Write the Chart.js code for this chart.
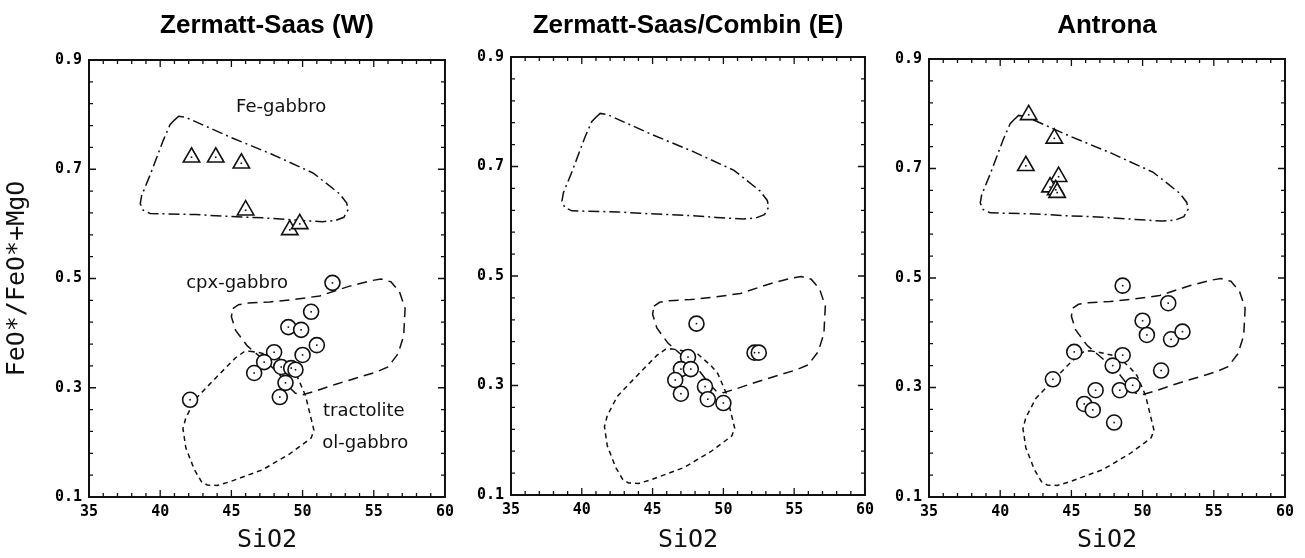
<!DOCTYPE html>
<html>
<head>
<meta charset="utf-8">
<script src="https://cdn.jsdelivr.net/npm/chart.js@4.4.1/dist/chart.umd.min.js"></script>
<style>
  html, body { margin: 0; padding: 0; background: #fff; }
  #wrap { position: relative; width: 1305px; height: 558px; overflow: hidden; }
  canvas { position: absolute; top: 0; }
</style>
</head>
<body>
<div id="wrap">
  <canvas id="west" width="460" height="558" style="left:0"></canvas>
  <canvas id="east" width="420" height="558" style="left:460px"></canvas>
  <canvas id="antrona" width="425" height="558" style="left:880px"></canvas>
</div>
<script>
// axis tick labels
const xTickLabels = [35, 40, 45, 50, 55, 60];
const yTickLabels = [0.1, 0.3, 0.5, 0.7, 0.9];

// field outlines (same in every panel)
const feGabbroX = [41.0, 41.3, 41.8, 44.9, 47.8, 50.75, 52.6, 53.1, 53.2, 52.9, 52.3, 51.4, 49.5, 47.2, 44.5, 42.5, 39.3, 38.8, 38.6, 38.7, 39.3, 40.2, 40.7, 41.0];
const feGabbroY = [0.790, 0.797, 0.795, 0.759, 0.728, 0.693, 0.655, 0.638, 0.626, 0.612, 0.606, 0.604, 0.607, 0.611, 0.614, 0.617, 0.619, 0.625, 0.637, 0.652, 0.690, 0.752, 0.782, 0.790];

const cpxX = [45.1, 45.5, 46.2, 47.7, 49.5, 51.2, 53.3, 54.8, 55.5, 56.2, 56.8, 57.2, 57.1, 56.7, 56.0, 55.2, 52.4, 50.8, 50.0, 49.5, 49.1, 48.2, 46.1, 45.3, 45.0, 45.1];
const cpxY = [0.445, 0.452, 0.455, 0.457, 0.462, 0.468, 0.486, 0.496, 0.499, 0.494, 0.476, 0.445, 0.395, 0.362, 0.338, 0.329, 0.307, 0.293, 0.287, 0.290, 0.300, 0.330, 0.377, 0.405, 0.430, 0.445];

const troctX = [46.3, 47.0, 48.2, 49.1, 49.6, 50.2, 50.5, 50.8, 50.6, 49.1, 47.2, 44.9, 44.0, 43.3, 42.9, 42.4, 41.8, 41.6, 41.8, 42.5, 43.9, 45.3, 45.9, 46.3];
const troctY = [0.367, 0.364, 0.357, 0.337, 0.322, 0.286, 0.254, 0.222, 0.208, 0.179, 0.150, 0.128, 0.121, 0.122, 0.128, 0.150, 0.190, 0.225, 0.245, 0.280, 0.318, 0.355, 0.366, 0.367];

// Zermatt-Saas (W)
const westTriX = [42.2, 43.9, 45.7, 46.0, 49.1, 49.8];
const westTriY = [0.722, 0.722, 0.711, 0.625, 0.589, 0.600];
const westCircX = [52.1, 50.6, 49.0, 49.9, 51.0, 50.0, 48.0, 47.3, 46.6, 48.5, 49.2, 49.5, 48.8, 48.4, 42.1];
const westCircY = [0.492, 0.439, 0.411, 0.406, 0.378, 0.360, 0.365, 0.347, 0.327, 0.338, 0.336, 0.333, 0.309, 0.283, 0.278];

// Zermatt-Saas/Combin (E)
const eastCircX = [48.1, 47.5, 47.0, 47.7, 46.6, 47.0, 48.7, 48.9, 50.0, 52.2, 52.5];
const eastCircY = [0.413, 0.352, 0.330, 0.330, 0.310, 0.285, 0.298, 0.275, 0.268, 0.360, 0.360];

// Antrona
const antTriX = [42.0, 43.8, 41.8, 44.1, 43.5, 43.9, 44.0];
const antTriY = [0.798, 0.755, 0.705, 0.685, 0.666, 0.661, 0.656];
const antCircX = [48.6, 51.8, 50.0, 50.3, 52.0, 52.8, 45.2, 48.6, 47.9, 51.3, 43.7, 46.7, 48.4, 49.3, 45.9, 46.5, 48.0];
const antCircY = [0.486, 0.454, 0.422, 0.396, 0.388, 0.402, 0.365, 0.359, 0.340, 0.331, 0.315, 0.295, 0.295, 0.304, 0.270, 0.259, 0.236];

// field names (west panel only)
const fieldNames = ["Fe-gabbro", "cpx-gabbro", "tractolite", "ol-gabbro"];
const fieldNameX = [48.5, 45.4, 54.3, 54.4];
const fieldNameY = [0.814, 0.492, 0.257, 0.199];

Chart.defaults.font.family = "'DejaVu Sans Mono', monospace";
Chart.defaults.color = "#000";

function pts(xs, ys) {
  return xs.map((x, i) => ({ x: x, y: ys[i] }));
}

function field(xs, ys, dash) {
  return {
    data: pts(xs, ys), showLine: true, pointRadius: 0, borderColor: "#111",
    borderWidth: 1.5, borderDash: dash, fill: false, tension: 0, order: 2
  };
}

function markers(xs, ys, style) {
  return {
    data: pts(xs, ys), showLine: false, pointStyle: style,
    pointRadius: style === "triangle" ? 9.5 : 7.5,
    pointBackgroundColor: "#fff", pointBorderColor: "#111", pointBorderWidth: 1.6,
    centreDot: true, order: 1
  };
}

// frame with inward ticks on all four sides
const frameTicks = {
  id: "frameTicks",
  afterDatasetsDraw(chart) {
    const { ctx, chartArea: a, scales: { x, y } } = chart;
    ctx.save();
    ctx.strokeStyle = "#111";
    ctx.lineWidth = 1.3;
    ctx.beginPath();
    for (let v = 35; v <= 60; v++) {
      const px = x.getPixelForValue(v);
      const len = v % 5 === 0 ? 7 : 4;
      ctx.moveTo(px, a.bottom); ctx.lineTo(px, a.bottom - len);
      ctx.moveTo(px, a.top); ctx.lineTo(px, a.top + len);
    }
    for (let k = 0; k <= 20; k++) {
      const py = y.getPixelForValue(0.1 + k * 0.04);
      const len = k % 5 === 0 ? 7 : 4;
      ctx.moveTo(a.left, py); ctx.lineTo(a.left + len, py);
      ctx.moveTo(a.right, py); ctx.lineTo(a.right - len, py);
    }
    ctx.stroke();
    ctx.lineWidth = 2;
    ctx.strokeRect(a.left, a.top, a.right - a.left, a.bottom - a.top);
    ctx.restore();
  }
};

// little dot in the middle of each symbol
const centreDots = {
  id: "centreDots",
  afterDatasetsDraw(chart) {
    const ctx = chart.ctx;
    ctx.save();
    ctx.fillStyle = "#111";
    chart.data.datasets.forEach((ds, i) => {
      if (!ds.centreDot) return;
      chart.getDatasetMeta(i).data.forEach(p => {
        ctx.fillRect(p.x - 0.8, p.y - 0.8, 1.6, 1.6);
      });
    });
    ctx.restore();
  }
};

const fieldText = {
  id: "fieldText",
  afterDatasetsDraw(chart, args, opts) {
    if (!opts.show) return;
    const { ctx, scales: { x, y } } = chart;
    ctx.save();
    ctx.font = "18px 'DejaVu Sans'";
    ctx.fillStyle = "#111";
    ctx.textAlign = "center";
    ctx.textBaseline = "middle";
    fieldNames.forEach((t, i) => {
      ctx.fillText(t, x.getPixelForValue(fieldNameX[i]), y.getPixelForValue(fieldNameY[i]));
    });
    ctx.restore();
  }
};

function makePanel(id, p) {
  const datasets = [];
  if (p.triX) datasets.push(markers(p.triX, p.triY, "triangle"));
  datasets.push(markers(p.circX, p.circY, "circle"));
  datasets.push(field(feGabbroX, feGabbroY, [11, 4, 2, 4]));
  datasets.push(field(cpxX, cpxY, [10, 6]));
  datasets.push(field(troctX, troctY, [5, 4]));

  new Chart(document.getElementById(id), {
    type: "scatter",
    data: { datasets: datasets },
    plugins: [frameTicks, centreDots, fieldText],
    options: {
      responsive: false,
      animation: false,
      layout: { padding: { left: 0, right: p.right, top: 0, bottom: 0 } },
      plugins: {
        legend: { display: false },
        tooltip: { enabled: false },
        fieldText: { show: !!p.labels },
        title: {
          display: true,
          text: p.title,
          fullSize: false,
          color: "#000",
          font: { family: "'Liberation Sans', Arial, sans-serif", size: 26, weight: "bold" },
          padding: { top: 10, bottom: p.top - 10 - 31.2 }
        }
      },
      scales: {
        x: {
          type: "linear", min: 35, max: 60,
          afterBuildTicks(s) { s.ticks = xTickLabels.map(v => ({ value: v })); },
          grid: { display: false, drawTicks: false },
          border: { display: false },
          ticks: { font: { size: 15, weight: "bold" }, padding: 6, maxRotation: 0, color: "#000" },
          title: { display: true, text: "SiO2", color: "#111", font: { size: 25 }, padding: { top: 0, bottom: 3 } },
          afterFit(s) { s.height = p.xh; }
        },
        y: {
          type: "linear", min: 0.1, max: 0.9,
          afterBuildTicks(s) { s.ticks = yTickLabels.map(v => ({ value: v })); },
          grid: { display: false, drawTicks: false },
          border: { display: false },
          ticks: { font: { size: 15, weight: "bold" }, padding: 7, color: "#000", callback: v => v.toFixed(1) },
          title: { display: !!p.yTitle, text: "FeO*/FeO*+MgO", color: "#111", font: { size: 25 }, padding: { top: 2, bottom: 0 } },
          afterFit(s) { s.width = p.yw; }
        }
      }
    }
  });
}

makePanel("west", {
  title: "Zermatt-Saas (W)", triX: westTriX, triY: westTriY, circX: westCircX, circY: westCircY,
  yw: 89, right: 11, top: 60, xh: 61, yTitle: true, labels: true
});
makePanel("east", {
  title: "Zermatt-Saas/Combin (E)", circX: eastCircX, circY: eastCircY,
  yw: 51, right: 12, top: 57, xh: 63
});
makePanel("antrona", {
  title: "Antrona", triX: antTriX, triY: antTriY, circX: antCircX, circY: antCircY,
  yw: 49, right: 20, top: 59, xh: 61
});
</script>
</body>
</html>
